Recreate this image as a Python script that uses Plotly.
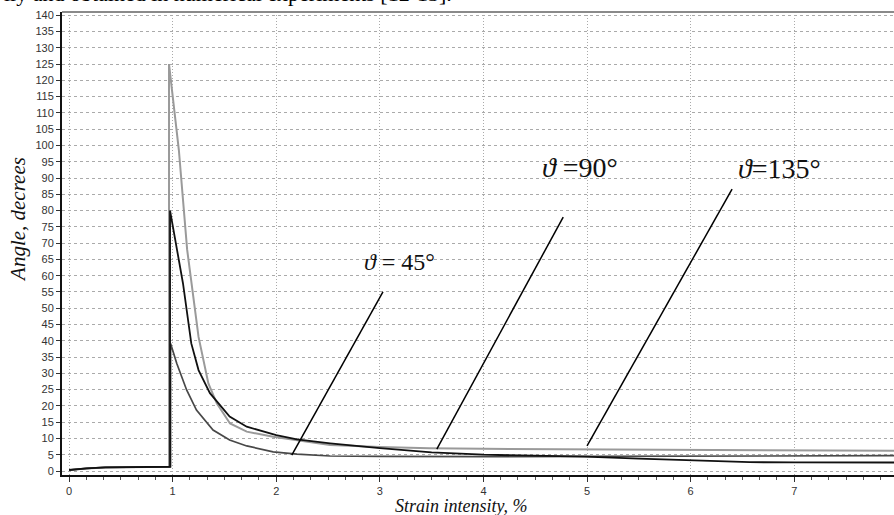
import plotly.graph_objects as go

# ---- data ----
pre_x = [0.0, 0.17, 0.35, 0.6, 0.95]
pre_y = [0.3, 0.8, 1.1, 1.2, 1.3]

# theta = 135 deg (light gray, peak 125)
x_135 = pre_x + [0.965, 0.965, 1.06, 1.14, 1.25, 1.345, 1.426, 1.554, 1.715, 1.97, 2.52, 3.0, 3.48, 4.0, 5.0, 6.0, 7.0, 8.0]
y_135 = pre_y + [1.3, 125.0, 98.6, 68.0, 41.2, 26.9, 20.8, 14.6, 12.1, 10.5, 8.0, 7.4, 7.0, 6.8, 6.6, 6.4, 6.3, 6.2]

# theta = 90 deg (black, peak 80)
x_90 = pre_x + [0.975, 0.975, 1.02, 1.10, 1.18, 1.25, 1.36, 1.55, 1.715, 2.0, 2.2, 2.52, 3.0, 3.5, 4.0, 4.98, 5.5, 6.0, 6.57, 7.0, 7.82, 8.0]
y_90 = pre_y + [1.3, 80.0, 72.0, 57.6, 39.2, 31.0, 23.9, 16.7, 13.6, 11.0, 9.7, 8.5, 7.0, 5.7, 5.0, 4.4, 3.8, 3.2, 2.7, 2.65, 2.6, 2.6]

# theta = 45 deg (dark gray, peak 39)
x_45 = pre_x + [0.98, 0.98, 1.04, 1.135, 1.23, 1.39, 1.55, 1.715, 1.97, 2.2, 2.52, 3.0, 3.48, 4.0, 5.0, 6.0, 7.0, 8.0]
y_45 = pre_y + [1.3, 39.2, 33.0, 24.9, 18.7, 12.6, 9.5, 7.7, 5.9, 5.2, 4.6, 4.5, 4.4, 4.4, 4.5, 4.6, 4.7, 4.7]

# pointer lines for the labels [bottom, top]
ptr45_x = [2.15, 3.03]
ptr45_y = [4.9, 55.0]
ptr90_x = [3.55, 4.77]
ptr90_y = [6.75, 78.0]
ptr135_x = [5.0, 6.40]
ptr135_y = [7.7, 86.6]

labels = ["<i>\u03d1</i> = 45\u00b0", "<i>\u03d1</i> =90\u00b0", "<i>\u03d1</i>=135\u00b0"]
label_x = [3.19, 4.93, 6.86]
label_y = [64.2, 93.3, 93.0]
label_size = [24, 28, 28]

x_ticks = [0, 1, 2, 3, 4, 5, 6, 7]
y_ticks = list(range(0, 141, 5))

fig = go.Figure()
fig.add_trace(go.Scatter(x=x_135, y=y_135, mode="lines",
                         line=dict(color="#9a9a9a", width=2), showlegend=False))
fig.add_trace(go.Scatter(x=x_45, y=y_45, mode="lines",
                         line=dict(color="#484848", width=1.7), showlegend=False))
fig.add_trace(go.Scatter(x=x_90, y=y_90, mode="lines",
                         line=dict(color="#111111", width=1.8), showlegend=False))
for px, py in [(ptr45_x, ptr45_y), (ptr90_x, ptr90_y), (ptr135_x, ptr135_y)]:
    fig.add_trace(go.Scatter(x=px, y=py, mode="lines",
                             line=dict(color="#000000", width=1.5), showlegend=False))

for t, lx, ly, s in zip(labels, label_x, label_y, label_size):
    fig.add_annotation(x=lx, y=ly, text=t, showarrow=False,
                       font=dict(family="Liberation Serif", size=s, color="#111"))

# cropped line of text from the page above the figure
fig.add_annotation(xref="paper", yref="paper", x=-0.072, y=1.009, xanchor="left", yanchor="bottom",
                   text="lly and obtained in numerical experiments [12-13].", showarrow=False,
                   font=dict(family="Liberation Serif", size=22, color="#000"))

# axis titles
fig.add_annotation(xref="paper", yref="paper", x=0.4796, y=-0.067, xanchor="center", yanchor="middle",
                   text="<i>Strain intensity, %</i>", showarrow=False, borderpad=0,
                   font=dict(family="Liberation Serif", size=18, color="#111"))
fig.add_annotation(xref="paper", yref="paper", x=-0.0529, y=0.553, xanchor="center", yanchor="middle",
                   text="<i>Angle, decrees</i>", textangle=-90, showarrow=False,
                   font=dict(family="Liberation Serif", size=21, color="#111"))

fig.add_shape(type="line", xref="paper", yref="paper", x0=0, x1=1, y0=1, y1=1,
              line=dict(color="#8a8a8a", width=2))

fig.update_layout(
    width=894, height=515,
    margin=dict(l=62, r=0, t=12, b=40),
    paper_bgcolor="white", plot_bgcolor="white",
    font=dict(family="Liberation Sans", size=11, color="#333"),
    xaxis=dict(range=[-0.068, 7.963], tickvals=x_ticks, showgrid=True,
               gridcolor="#aaaaaa", griddash="1px,2px", gridwidth=1,
               showline=True, linecolor="#111", linewidth=2,
               ticks="outside", ticklen=5, tickcolor="#333", zeroline=False,
               minor=dict(dtick=1/6, tick0=0, ticks="outside", ticklen=3, tickcolor="#555", showgrid=False)),
    yaxis=dict(range=[-1.23, 141.0], tickvals=y_ticks, showgrid=True,
               gridcolor="#aaaaaa", griddash="3px,3px", gridwidth=1,
               showline=True, linecolor="#111", linewidth=2,
               ticks="outside", ticklen=4, tickcolor="#333", zeroline=False),
)

fig.write_html("out.html")
